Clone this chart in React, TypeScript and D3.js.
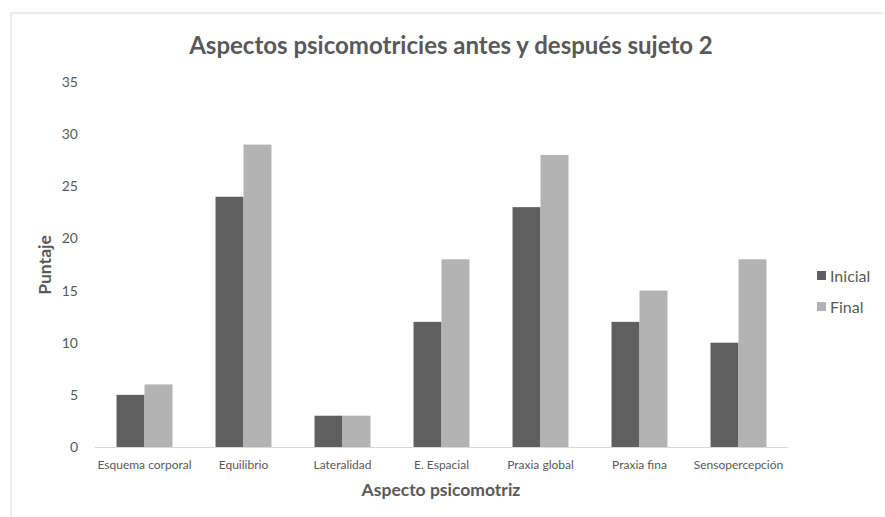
import React from "react";
import * as d3 from "d3";

const categories = ["Esquema corporal", "Equilibrio", "Lateralidad", "E. Espacial", "Praxia global", "Praxia fina", "Sensopercepción"];
const inicial = [5, 24, 3, 12, 23, 12, 10];
const final = [6, 29, 3, 18, 28, 15, 18];
const seriesNames = ["Inicial", "Final"];
const yTicks = [0, 5, 10, 15, 20, 25, 30, 35];

const colors = ["#5f5f5f", "#b3b3b3"];
const textColor = "#595959";
const font = "Lato, 'Open Sans', sans-serif";

export default function App() {
  const W = 885, H = 517;
  const left = 95, right = 788, top = 82, bottom = 447;
  const x = d3.scaleBand<string>().domain(categories).range([left, right]).paddingInner(0.435).paddingOuter(0.2175);
  const x1 = d3.scaleBand<string>().domain(seriesNames).range([0, x.bandwidth()]);
  const y = d3.scaleLinear().domain([0, 35]).range([bottom, top]);
  const data = [inicial, final];
  return (
    <svg width={W} height={H} style={{ position: "absolute", left: 0, top: 0 }}>
      <rect x={0} y={0} width={W} height={H} fill="#fff" />
      <line x1={11} x2={884} y1={13} y2={13} stroke="#d9d9d9" strokeWidth={1} />
      <line x1={11} x2={11} y1={13} y2={H} stroke="#d9d9d9" strokeWidth={1} />
      <text x={451} y={54} textAnchor="middle" fontFamily={font} fontWeight="bold" fontSize={24} fill={textColor}>
        Aspectos psicomotricies antes y después sujeto 2
      </text>
      {yTicks.map((t) => (
        <text key={t} x={78} y={y(t) + 5} textAnchor="end" fontFamily={font} fontSize={14} fill={textColor}>
          {t}
        </text>
      ))}
      {categories.map((c, i) => (
        <g key={c}>
          {data.map((s, j) => (
            <rect
              key={j}
              x={(x(c) as number) + (x1(seriesNames[j]) as number)}
              y={y(s[i])}
              width={x1.bandwidth()}
              height={y(0) - y(s[i])}
              fill={colors[j]}
            />
          ))}
          <text x={(x(c) as number) + x.bandwidth() / 2} y={469} textAnchor="middle" fontFamily={font} fontSize={12} fill={textColor}>
            {c}
          </text>
        </g>
      ))}
      <line x1={left} x2={right} y1={bottom + 0.5} y2={bottom + 0.5} stroke="#d9d9d9" strokeWidth={1} />
      <text x={441} y={496} textAnchor="middle" fontFamily={font} fontWeight="bold" fontSize={17.5} fill={textColor}>
        Aspecto psicomotriz
      </text>
      <text transform={`translate(51,265) rotate(-90)`} textAnchor="middle" fontFamily={font} fontWeight="bold" fontSize={17.5} fill={textColor}>
        Puntaje
      </text>
      {seriesNames.map((n, j) => (
        <g key={n}>
          <rect x={817} y={271 + j * 31} width={9} height={9} fill={colors[j]} />
          <text x={830} y={282 + j * 31} fontFamily={font} fontSize={16} fill={textColor}>
            {n}
          </text>
        </g>
      ))}
    </svg>
  );
}
